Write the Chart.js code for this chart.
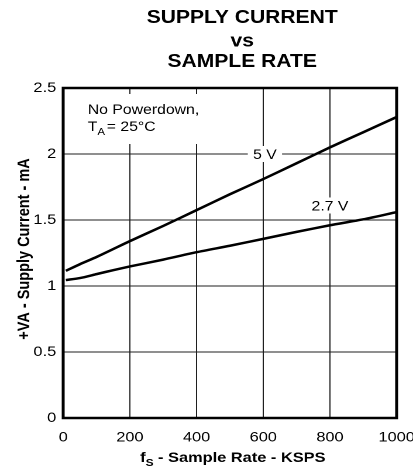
<!DOCTYPE html>
<html>
<head>
<meta charset="utf-8">
<script src="https://cdn.jsdelivr.net/npm/chart.js@4.4.0/dist/chart.umd.min.js"></script>
<style>
  html, body { margin: 0; padding: 0; background: #fff; overflow: hidden; }
  /* the reference glyphs are a little wide: draw narrow, stretch the whole sheet */
  #wrap { width: 353px; height: 470px; transform: scaleX(1.17); transform-origin: 0 0; }
</style>
</head>
<body>
<div id="wrap"><canvas id="chart" width="353" height="470"></canvas></div>
<script>
/* ── DATA ── */
const rateKsps   = [8, 50, 100, 150, 200, 300, 400, 500, 600, 700, 800, 900, 1000];
const current5V  = [1.115, 1.165, 1.22, 1.28, 1.34, 1.455, 1.575, 1.695, 1.81, 1.93, 2.05, 2.165, 2.28];
const current27V = [1.045, 1.06, 1.09, 1.12, 1.148, 1.2, 1.256, 1.305, 1.357, 1.41, 1.46, 1.505, 1.56];

const seriesNames = ['5 V', '2.7 V'];
const labelAt     = [[605, 2.0], [800, 1.61]];   // where the in-plot curve names sit (x, y in data units)

const titleLines = ['SUPPLY CURRENT', 'vs', 'SAMPLE RATE'];
const xTitleRuns = [{ t: 'f' }, { t: 'S', sub: true }, { t: ' - Sample Rate - KSPS' }];
const yTitle     = '+VA - Supply Current - mA';
const noteLine1  = [{ t: 'No Powerdown,' }];
const noteLine2  = [{ t: 'T' }, { t: 'A', sub: true }, { t: '= 25°C', gap: 1.5 }];

const FONT = "'Liberation Sans', Arial, Helvetica, sans-serif";
Chart.defaults.font.family = FONT;
Chart.defaults.color = '#000';

// ── TEXT HELPERS ──
function runsWidth(ctx, runs, size, weight) {
  let w = 0;
  runs.forEach(r => {
    ctx.font = `${weight} ${r.sub ? size * 0.72 : size}px ${FONT}`;
    w += ctx.measureText(r.t).width + (r.gap || 0);
  });
  return w;
}
function drawRuns(ctx, runs, x, y, size, weight) {
  ctx.textAlign = 'left';
  ctx.textBaseline = 'alphabetic';
  runs.forEach(r => {
    ctx.font = `${weight} ${r.sub ? size * 0.72 : size}px ${FONT}`;
    x += (r.gap || 0);
    ctx.fillText(r.t, x, r.sub ? y + size * 0.3 : y);
    x += ctx.measureText(r.t).width;
  });
}

// ── ANNOTATIONS: white boxes that break the grid, then text ──
const notesPlugin = {
  id: 'notes',
  beforeDatasetsDraw(chart) {
    const { ctx, chartArea: a, scales: { x, y } } = chart;
    ctx.save();
    ctx.fillStyle = '#fff';
    ctx.fillRect(a.left + 15, a.top + 6, 104, 50);
    ctx.fillStyle = '#000';
    drawRuns(ctx, noteLine1, a.left + 21, a.top + 26, 13.5, 'normal');
    drawRuns(ctx, noteLine2, a.left + 21, a.top + 43, 13.5, 'normal');

    seriesNames.forEach((name, i) => {
      const px = x.getPixelForValue(labelAt[i][0]);
      const py = y.getPixelForValue(labelAt[i][1]);
      ctx.font = `normal 13.5px ${FONT}`;
      const w = ctx.measureText(name).width;
      ctx.fillStyle = '#fff';
      ctx.fillRect(px - w / 2 - 4.5, py - 8, w + 9, 16);
      ctx.fillStyle = '#000';
      ctx.textAlign = 'center';
      ctx.textBaseline = 'alphabetic';
      ctx.fillText(name, px, py + 5);
    });
    ctx.restore();
  },
  afterDatasetsDraw(chart) {
    const { ctx, chartArea: a } = chart;
    ctx.save();
    ctx.strokeStyle = '#000';
    ctx.lineWidth = 2.5;
    ctx.strokeRect(a.left, a.top, a.right - a.left, a.bottom - a.top);
    ctx.restore();
  },
  afterDraw(chart) {
    const { ctx, chartArea: a } = chart;
    ctx.save();
    ctx.fillStyle = '#000';

    // heading
    ctx.font = `bold 18px ${FONT}`;
    ctx.textAlign = 'center';
    ctx.textBaseline = 'alphabetic';
    [23, 46.5, 67].forEach((by, i) => ctx.fillText(titleLines[i], 207, by));

    // x axis title (with subscript)
    const w = runsWidth(ctx, xTitleRuns, 14, 'bold');
    drawRuns(ctx, xTitleRuns, 199 - w / 2, 462, 14, 'bold');

    // y axis title
    ctx.translate(19.7, (a.top + a.bottom) / 2 - 4);
    ctx.rotate(-Math.PI / 2);
    ctx.font = `bold 14.5px ${FONT}`;
    ctx.textAlign = 'center';
    ctx.fillText(yTitle, 0, 5.2);
    ctx.restore();
  }
};

const lineStyle = { borderColor: '#000', borderWidth: 2.5, pointRadius: 0, tension: 0.25, fill: false };

new Chart(document.getElementById('chart'), {
  type: 'line',
  data: {
    datasets: [
      { ...lineStyle, label: seriesNames[0], data: rateKsps.map((r, i) => ({ x: r, y: current5V[i] })) },
      { ...lineStyle, label: seriesNames[1], data: rateKsps.map((r, i) => ({ x: r, y: current27V[i] })) },
    ]
  },
  options: {
    responsive: false,
    devicePixelRatio: 2,
    animation: false,
    layout: { padding: { top: 88, right: 14, left: 0, bottom: 0 } },
    plugins: { legend: { display: false }, tooltip: { enabled: false }, title: { display: false } },
    scales: {
      x: {
        type: 'linear', min: 0, max: 1000,
        border: { display: false },
        grid: { color: '#1f1f1f', lineWidth: 1, drawTicks: false },
        ticks: { stepSize: 200, padding: 11, font: { size: 14 }, color: '#000', maxRotation: 0,
                 callback: v => String(v) },
        afterFit: s => { s.height = 52; s.paddingLeft = 0; s.paddingRight = 0; }
      },
      y: {
        min: 0, max: 2.5,
        border: { display: false },
        grid: { color: '#1f1f1f', lineWidth: 1, drawTicks: false },
        ticks: { stepSize: 0.5, padding: 6, font: { size: 14 }, color: '#000',
                 callback: v => String(v) },
        afterFit: s => { s.width = 54; s.paddingTop = 0; s.paddingBottom = 0; }
      }
    }
  },
  plugins: [notesPlugin]
});
</script>
</body>
</html>
